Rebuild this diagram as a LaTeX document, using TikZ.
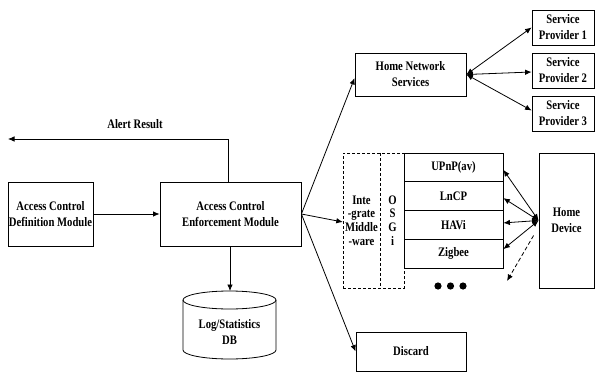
\documentclass[tikz,border=0pt]{standalone}
\usepackage{fontspec}
\setmainfont{Liberation Serif}[FakeStretch=0.82]
\usetikzlibrary{arrows.meta,calc}
\begin{document}
\begin{tikzpicture}[x=1pt,y=-1pt,
  txt/.style={font={\fontsize{13}{16}\selectfont\bfseries},align=center},
  box/.style={draw,line width=0.8pt,inner sep=0pt,txt},
  dbox/.style={draw,line width=0.7pt,dash pattern=on 3pt off 2pt,inner sep=0pt},
  arr/.style={line width=0.8pt,-{Latex[length=6.5pt,width=5.5pt]}},
  darr/.style={line width=0.8pt,{Latex[length=6.5pt,width=5.5pt]}-{Latex[length=6.5pt,width=5.5pt]}}
]
\useasboundingbox (0,0) rectangle (595,372);

% left modules
\node[box,minimum width=85pt,minimum height=64pt] (def) at (50.5,214) {Access Control\\Definition Module};
\node[box,minimum width=141pt,minimum height=64pt] (enf) at (230.5,214) {Access Control\\Enforcement Module};

% alert result
\coordinate (alertend) at (8,139);
\draw[arr] ([xshift=-2.5pt]enf.north) |- (alertend);
\node[txt] (alert) at (135,124) {Alert Result};

\draw[arr] (def) -- (def.east -| enf.west);

% database
\coordinate (dbtop) at (230,291);
\draw[line width=0.8pt] (183,300) -- (183,350) arc[start angle=180,end angle=360,x radius=46.5pt,y radius=9pt] -- (276,300);
\draw[line width=0.8pt] (229.5,300) ellipse[x radius=46.5pt,y radius=9pt];
\node[txt] (db) at (229.5,332) {Log/Statistics\\DB};
\draw[arr] (enf.south -| dbtop) -- (dbtop);

% home network services and providers
\node[box,minimum width=111pt,minimum height=43pt] (hns) at (410.5,74.5) {Home Network\\Services};
\node[box,minimum width=62pt,minimum height=35pt] (sp1) at (563,27.5) {Service\\Provider 1};
\node[box,minimum width=62pt,minimum height=35pt] (sp2) at (563,70.5) {Service\\Provider 2};
\node[box,minimum width=62pt,minimum height=35pt] (sp3) at (563,113.5) {Service\\Provider 3};
\draw[darr] (hns.east) -- (sp1.west);
\draw[darr] (hns.east) -- ($(sp2.west)+(0,1.5)$);
\draw[darr] (hns.east) -- ($(sp3.west)+(0,-3)$);

% middleware + OSGi (one dashed frame with a dashed divider)
\node[dbox,minimum width=61pt,minimum height=135pt] (mwf) at (373.5,220.5) {};
\node[inner sep=0pt,minimum width=37pt,minimum height=135pt] (mw) at (361.5,220.5) {};
\draw[line width=0.7pt,dash pattern=on 3pt off 2pt] (mw.north east) -- (mw.south east);
\node[txt,font={\fontsize{13}{13.7}\selectfont\bfseries}] (mwt) at (361.5,220.5) {Inte\\-grate\\Middle\\-ware};
\node[txt,font={\fontsize{13}{13.7}\selectfont\bfseries}] (osgit) at (392.5,220.5) {O\\S\\G\\i};

\node[box,minimum width=99pt,minimum height=28.75pt] (r1) at (453.5,167.4) {UPnP(av)};
\node[box,minimum width=99pt,minimum height=28.75pt] (r2) at (453.5,196.1) {LnCP};
\node[box,minimum width=99pt,minimum height=28.75pt] (r3) at (453.5,224.9) {HAVi};
\node[box,minimum width=99pt,minimum height=28.75pt] (r4) at (453.5,253.6) {Zigbee};

\fill (438,286) circle[radius=3.6pt] (450.5,286) circle[radius=3.6pt] (463,286) circle[radius=3.6pt];

% home device
\node[box,minimum width=55pt,minimum height=135pt] (hd) at (566.5,220.5) {Home\\Device};
\draw[darr] (hd.west) -- ($(r1.east)+(0,2.5)$);
\draw[darr] (hd.west) -- ($(r2.east)+(0,2)$);
\draw[darr] (hd.west) -- ($(r3.east)+(0,-2)$);
\draw[darr] (hd.west) -- ($(r4.east)+(0,-4.5)$);
\coordinate (dashend) at (507,281);
\draw[arr,dash pattern=on 4pt off 2.5pt] ($(hd.west)+(-5,15)$) -- (dashend);

% discard
\node[box,minimum width=110pt,minimum height=39pt] (disc) at (411,351.5) {Discard};

% enforcement outputs
\draw[arr] (enf.east) -- ($(hns.west)+(0,3.5)$);
\draw[arr] (enf.east) -- ($(mw.west)+(0,1.5)$);
\draw[arr] (enf.east) -- (disc.west);
\end{tikzpicture}
\end{document}
